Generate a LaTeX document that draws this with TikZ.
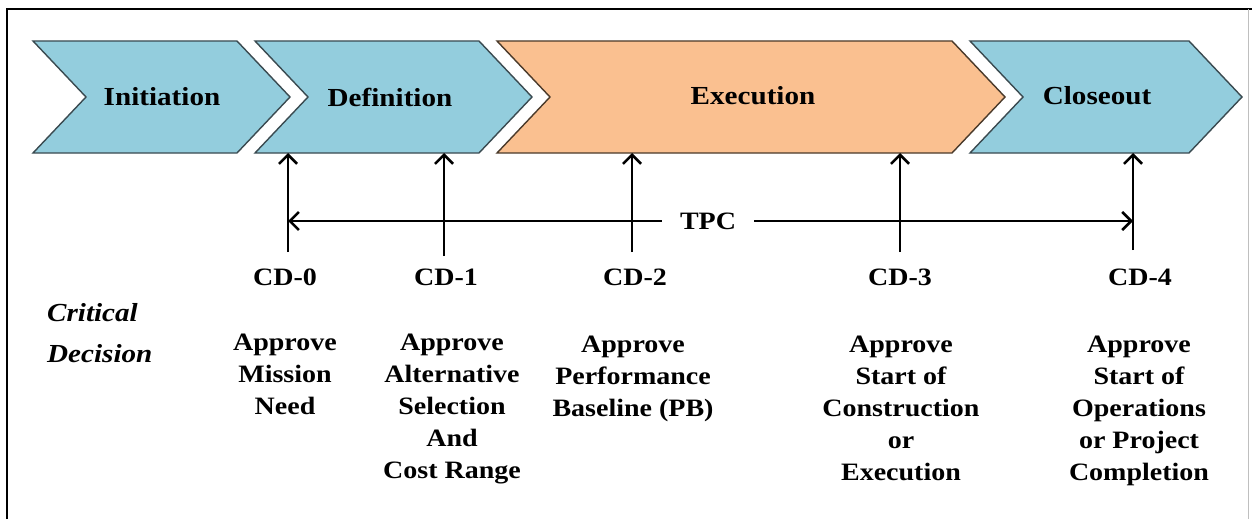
\documentclass[tikz,border=0pt]{standalone}
\usepackage{fontspec}
\setmainfont{Liberation Serif}
\newfontfamily\widefont[FakeStretch=1.12]{Liberation Serif}
\usetikzlibrary{arrows.meta}
\definecolor{chblue}{HTML}{93CDDD}
\definecolor{chorange}{HTML}{FAC090}
\definecolor{chedge}{HTML}{3A4A50}
\definecolor{choedge}{HTML}{4A3A2A}
\tikzset{
  chevbox/.style={line width=1.4pt, line join=miter},
  chevtitle/.style={font=\widefont\fontsize{26}{30}\selectfont\bfseries, inner sep=0pt},
  cdlabel/.style={font=\widefont\fontsize{25}{28}\selectfont\bfseries, inner sep=0pt},
  desc/.style={font=\widefont\fontsize{25}{32}\selectfont\bfseries, align=center, inner sep=0pt, anchor=north},
  upar/.style={line width=2.6pt, -{Straight Barb[length=9pt,width=18pt]}},
}
\newcommand\mychev[4]{%
  \draw[chevbox, fill=#3, draw=#4] (#1,41) -- (#2,41) -- ({#2+53},97) -- (#2,153) -- (#1,153) -- ({#1+53},97) -- cycle;}
\begin{document}
\begin{tikzpicture}[x=1pt,y=-1pt]
\useasboundingbox (0,0) rectangle (1252,519);
\fill[white] (0,0) rectangle (1252,519);
% frame
\draw[line width=2.6pt] (7,519) -- (7,9) -- (1252,9);
\draw[line width=1pt, black!25] (1248,9) -- (1248,519);
% chevrons
\mychev{33}{237}{chblue}{chedge}
\mychev{255}{479}{chblue}{chedge}
\mychev{497}{952}{chorange}{choedge}
\mychev{970}{1189}{chblue}{chedge}
\node[chevtitle] (init) at (162,97) {Initiation};
\node[chevtitle] (defn) at (390,97) {Definition};
\node[chevtitle] (exec) at (753,96) {Execution};
\node[chevtitle] (close) at (1097,96) {Closeout};
% decision points
\coordinate (t0) at (288,153); \coordinate (s0) at (288,252);
\coordinate (t1) at (444,153); \coordinate (s1) at (444,256);
\coordinate (t2) at (632,153); \coordinate (s2) at (632,252);
\coordinate (t3) at (900,153); \coordinate (s3) at (900,252);
\coordinate (t4) at (1133,153); \coordinate (s4) at (1133,250);
\foreach \i in {0,...,4} {\draw[upar] (s\i) -- (t\i);}
% TPC
\node[font=\widefont\fontsize{25}{28}\selectfont\bfseries, inner xsep=18pt, inner ysep=0pt] (tpc) at (708,221) {TPC};
\coordinate (l0) at (288,221);
\coordinate (l4) at (1133,221);
\draw[upar] (tpc.west) -- (l0);
\draw[upar] (tpc.east) -- (l4);
% CD labels
\node[cdlabel] (cd0) at (285,277) {CD-0};
\node[cdlabel] (cd1) at (446,277) {CD-1};
\node[cdlabel] (cd2) at (635,277) {CD-2};
\node[cdlabel] (cd3) at (900,277) {CD-3};
\node[cdlabel] (cd4) at (1140,277) {CD-4};
% Critical Decision
\node[font=\widefont\fontsize{26}{41}\selectfont\bfseries\itshape, align=left, anchor=north west, inner sep=0pt] (crit) at (47,303) {Critical\\Decision};
% descriptions
\node[desc] (d0) at (285,334) {Approve\\Mission\\Need};
\node[desc] (d1) at (452,334) {Approve\\Alternative\\Selection\\And\\Cost Range};
\node[desc] (d2) at (633,336) {Approve\\Performance\\Baseline (PB)};
\node[desc] (d3) at (901,336) {Approve\\Start of\\Construction\\or\\Execution};
\node[desc] (d4) at (1139,336) {Approve\\Start of\\Operations\\or Project\\Completion};
\end{tikzpicture}
\end{document}
